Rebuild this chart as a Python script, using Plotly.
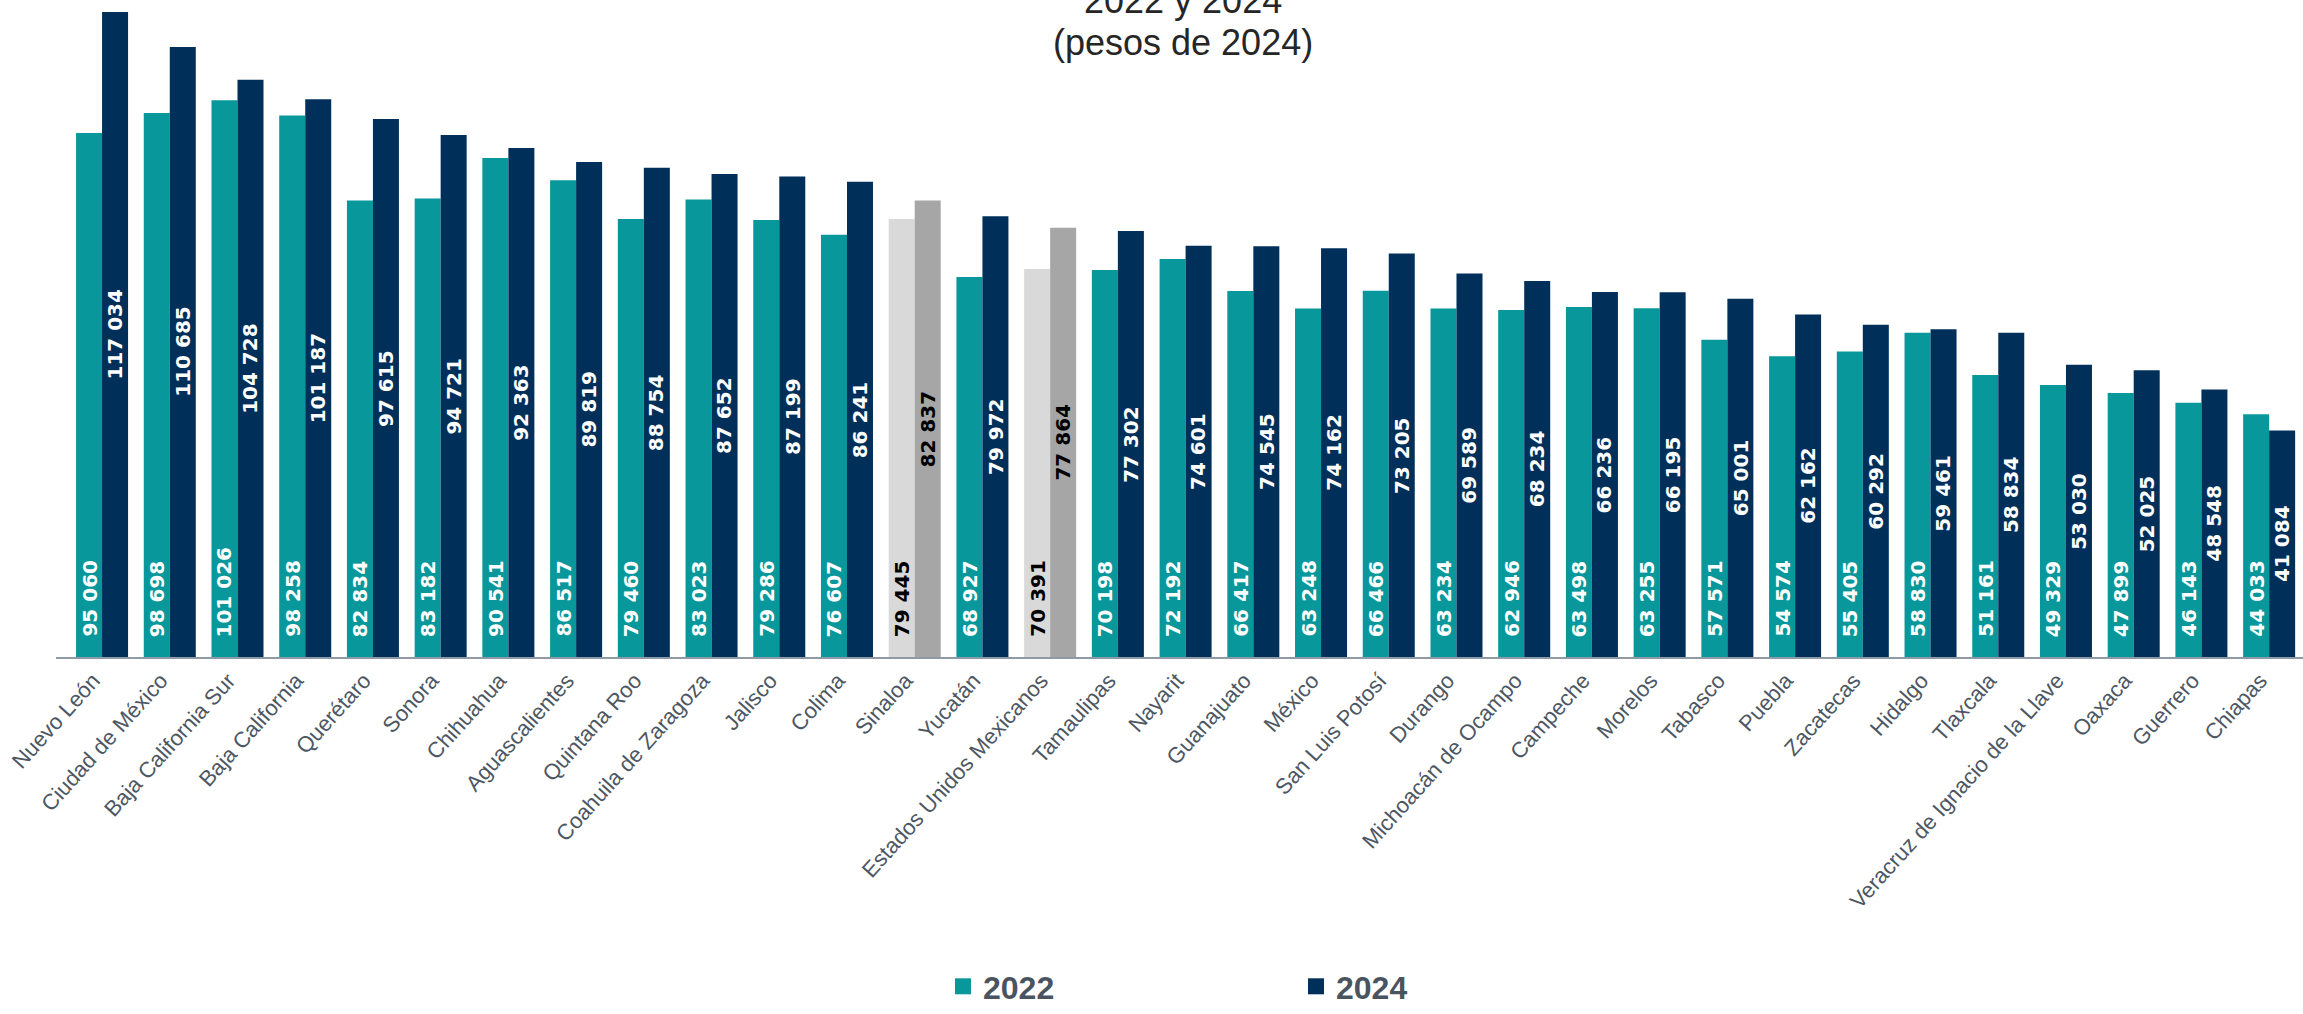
import plotly.graph_objects as go

states = [
    "Nuevo León", "Ciudad de México", "Baja California Sur", "Baja California",
    "Querétaro", "Sonora", "Chihuahua", "Aguascalientes", "Quintana Roo",
    "Coahuila de Zaragoza", "Jalisco", "Colima", "Sinaloa", "Yucatán",
    "Estados Unidos Mexicanos", "Tamaulipas", "Nayarit", "Guanajuato", "México",
    "San Luis Potosí", "Durango", "Michoacán de Ocampo", "Campeche", "Morelos",
    "Tabasco", "Puebla", "Zacatecas", "Hidalgo", "Tlaxcala",
    "Veracruz de Ignacio de la Llave", "Oaxaca", "Guerrero", "Chiapas",
]
values_2022 = [
    95060, 98698, 101026, 98258, 82834, 83182, 90541, 86517, 79460, 83023,
    79286, 76607, 79445, 68927, 70391, 70198, 72192, 66417, 63248, 66466,
    63234, 62946, 63498, 63255, 57571, 54574, 55405, 58830, 51161, 49329,
    47899, 46143, 44033,
]
values_2024 = [
    117034, 110685, 104728, 101187, 97615, 94721, 92363, 89819, 88754, 87652,
    87199, 86241, 82837, 79972, 77864, 77302, 74601, 74545, 74162, 73205,
    69589, 68234, 66236, 66195, 65001, 62162, 60292, 59461, 58834, 53030,
    52025, 48548, 41084,
]
highlighted = ["Sinaloa", "Estados Unidos Mexicanos"]
series_names = ["2022", "2024"]
title_lines = ["2022 y 2024", "(pesos de 2024)"]

TEAL = "#08979A"
NAVY = "#00305A"
LIGHT_GRAY = "#D9D9D9"
MID_GRAY = "#A6A6A6"

def fmt(v):
    return f"{v:,}".replace(",", " ")

colors_2022 = [LIGHT_GRAY if s in highlighted else TEAL for s in states]
colors_2024 = [MID_GRAY if s in highlighted else NAVY for s in states]

fig = go.Figure()
fig.add_trace(go.Bar(x=states, y=values_2022, name=series_names[0],
                     marker=dict(color=colors_2022, line=dict(width=0)),
                     showlegend=False, hoverinfo="x+y"))
fig.add_trace(go.Bar(x=states, y=values_2024, name=series_names[1],
                     marker=dict(color=colors_2024, line=dict(width=0)),
                     showlegend=False, hoverinfo="x+y"))
# legend entries
fig.add_trace(go.Scatter(x=[None], y=[None], mode="markers", name=series_names[0],
                         marker=dict(symbol="square", size=32, color=TEAL)))
fig.add_trace(go.Scatter(x=[None], y=[None], mode="markers", name=series_names[1],
                         marker=dict(symbol="square", size=32, color=NAVY)))

annotations = []
label_font = "DejaVu Sans"
for s, v1, v2 in zip(states, values_2022, values_2024):
    c = "black" if s in highlighted else "white"
    annotations.append(dict(
        x=s, y=0, xref="x", yref="y", text=fmt(v1), showarrow=False,
        textangle=-90, yanchor="bottom", xanchor="center", yshift=18, xshift=-13,
        font=dict(family=label_font, size=20, color=c, weight="bold")))
    annotations.append(dict(
        x=s, y=v2 / 2, xref="x", yref="y", text=fmt(v2), showarrow=False,
        textangle=-90, yanchor="middle", xanchor="center", xshift=13,
        font=dict(family=label_font, size=20, color=c, weight="bold")))

PLOT_H = 657
annotations.append(dict(
    x=0.5016, y=1.0, xref="paper", yref="paper", text=title_lines[0],
    showarrow=False, yanchor="middle", xanchor="center",
    font=dict(family="Liberation Sans, Arial", size=36, color="#262626")))
annotations.append(dict(
    x=0.5016, y=1 - 43 / PLOT_H, xref="paper", yref="paper", text=title_lines[1],
    showarrow=False, yanchor="middle", xanchor="center",
    font=dict(family="Liberation Sans, Arial", size=36, color="#262626")))

fig.update_layout(
    width=2303, height=1014,
    margin=dict(l=56, r=0, t=0, b=357),
    paper_bgcolor="white", plot_bgcolor="white",
    barmode="group", bargap=0.232, bargroupgap=0,
    annotations=annotations,
    showlegend=True,
    legend=dict(orientation="h", xref="container", yref="container",
                x=943 / 2303, y=0.0, xanchor="left", yanchor="bottom",
                entrywidth=308, entrywidthmode="pixels",
                font=dict(family="Liberation Sans Narrow, Arial Narrow, Liberation Sans",
                          size=32, color="#4A5461", weight="bold")),
    font=dict(family="Liberation Sans, Arial"),
)
fig.update_xaxes(
    range=[-0.68, 32.5], tickangle=-48, showgrid=False,
    showline=True, linecolor="#8E9AA6", linewidth=2,
    ticks="", ticklabelshift=-9,
    tickfont=dict(family="Liberation Sans, Arial", size=22, color="#4D5763"),
)
fig.update_yaxes(range=[0, 119200], visible=False, showgrid=False, zeroline=False)

fig.write_html("out.html", config={"displayModeBar": False},
               post_script="document.body.style.margin='0';")
